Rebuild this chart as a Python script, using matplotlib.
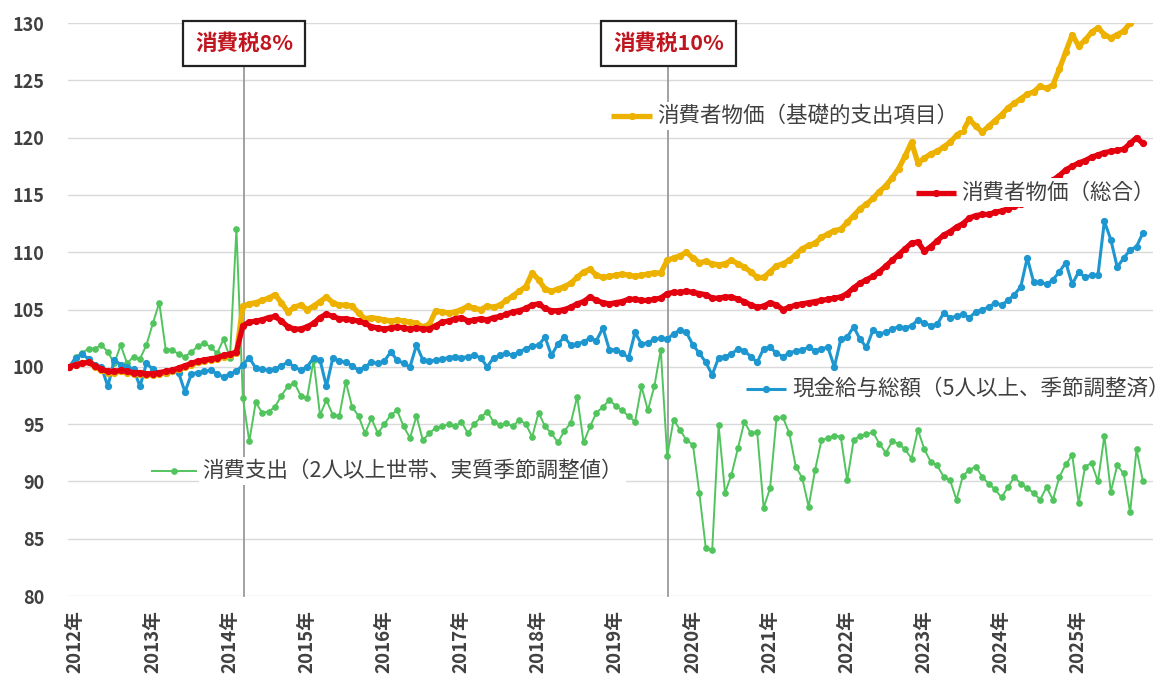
import numpy as np
import matplotlib
matplotlib.use("Agg")
import matplotlib.pyplot as plt
from matplotlib.transforms import ScaledTranslation

plt.rcParams['font.family'] = ['Noto Sans CJK JP', 'DejaVu Sans']

# Monthly, 2012-01 .. 2025-12
years = list(range(2012, 2026))
year_labels = [f"{y}年" for y in years]

cpi_basic = [
    100.0, 100.2, 100.3, 100.4, 100.0, 99.7, 99.5, 99.5, 99.6, 99.5, 99.4, 99.4,
    99.3, 99.3, 99.4, 99.5, 99.6, 99.8, 100.0, 100.2, 100.4, 100.5, 100.6, 100.7,
    100.9, 101.0, 101.2, 105.3, 105.5, 105.6, 105.8, 106.0, 106.3, 105.6, 104.8, 105.2,
    105.4, 105.0, 105.3, 105.7, 106.1, 105.6, 105.4, 105.4, 105.3, 104.7, 104.2, 104.3,
    104.2, 104.1, 104.0, 104.1, 104.0, 103.9, 103.8, 103.5, 103.7, 104.9, 104.8, 104.7,
    104.8, 105.0, 105.3, 105.1, 105.0, 105.3, 105.2, 105.4, 105.8, 106.2, 106.6, 107.0,
    108.2, 107.6, 106.8, 106.6, 106.8, 107.0, 107.3, 107.8, 108.3, 108.5, 108.0, 107.8,
    107.9, 108.0, 108.1, 108.0, 107.9, 108.0, 108.1, 108.2, 108.2, 109.3, 109.5, 109.7,
    110.0, 109.5, 109.1, 109.2, 109.0, 108.9, 109.0, 109.3, 109.0, 108.7, 108.3, 107.8,
    107.8, 108.3, 108.8, 109.0, 109.3, 109.8, 110.3, 110.6, 110.8, 111.3, 111.6, 111.9,
    112.0, 112.6, 113.2, 113.8, 114.2, 114.7, 115.3, 115.8, 116.5, 117.3, 118.4, 119.6,
    117.8, 118.2, 118.6, 118.8, 119.2, 119.6, 120.2, 120.6, 121.6, 121.0, 120.5, 121.0,
    121.5, 122.0, 122.6, 123.0, 123.4, 123.8, 124.0, 124.5, 124.3, 124.6, 126.0, 127.5,
    129.0, 128.0, 128.5, 129.2, 129.6, 129.0, 128.7, 129.0, 129.3, 130.0, np.nan, np.nan,
]

cpi_total = [
    100.0, 100.2, 100.3, 100.4, 100.1, 99.8, 99.6, 99.6, 99.7, 99.6, 99.5, 99.5,
    99.4, 99.4, 99.5, 99.6, 99.7, 99.9, 100.1, 100.3, 100.5, 100.6, 100.7, 100.8,
    101.0, 101.1, 101.3, 103.6, 103.9, 104.0, 104.1, 104.3, 104.4, 104.0, 103.5, 103.3,
    103.3, 103.5, 103.8, 104.3, 104.6, 104.4, 104.2, 104.2, 104.1, 104.0, 103.8, 103.5,
    103.4, 103.3, 103.4, 103.5, 103.4, 103.3, 103.4, 103.3, 103.3, 103.6, 103.9, 104.0,
    104.2, 104.3, 104.0, 104.1, 104.2, 104.1, 104.3, 104.4, 104.6, 104.8, 104.9, 105.1,
    105.4, 105.5, 105.1, 104.9, 104.9, 105.0, 105.2, 105.5, 105.7, 106.1, 105.8, 105.6,
    105.5, 105.6, 105.7, 105.9, 105.9, 105.8, 105.8, 105.9, 106.0, 106.4, 106.5, 106.5,
    106.6, 106.5, 106.4, 106.3, 106.0, 106.0, 106.1, 106.1, 105.9, 105.7, 105.4, 105.2,
    105.3, 105.6, 105.4, 105.0, 105.2, 105.4, 105.5, 105.6, 105.7, 105.8, 105.9, 106.0,
    106.1, 106.4, 106.9, 107.3, 107.6, 107.9, 108.3, 108.8, 109.3, 109.8, 110.3, 110.8,
    110.9, 110.1, 110.5, 111.0, 111.5, 111.8, 112.2, 112.5, 113.0, 113.2, 113.3, 113.3,
    113.5, 113.6, 113.8, 114.0, 114.2, 114.5, 114.9, 115.3, 115.8, 116.3, 116.7, 117.2,
    117.5, 117.8, 118.0, 118.3, 118.5, 118.7, 118.8, 118.9, 119.0, 119.5, 120.0, 119.5,
]

wages = [
    100.0, 100.8, 101.1, 100.7, 100.2, 100.0, 98.3, 100.6, 100.2, 100.0, 99.8, 98.3,
    100.3, 99.8, 99.5, 99.5, 99.6, 99.5, 97.8, 99.4, 99.5, 99.6, 99.7, 99.4,
    99.1, 99.4, 99.6, 100.2, 100.8, 99.9, 99.8, 99.7, 99.8, 100.1, 100.4, 100.0,
    99.7, 100.0, 100.8, 100.6, 98.3, 100.8, 100.5, 100.4, 100.1, 99.7, 100.0, 100.4,
    100.3, 100.5, 101.3, 100.6, 100.3, 100.0, 101.9, 100.6, 100.5, 100.6, 100.7, 100.8,
    100.9, 100.8, 100.9, 101.0, 100.8, 100.0, 100.8, 101.0, 101.2, 101.0, 101.3, 101.6,
    101.8, 101.9, 102.6, 101.0, 102.0, 102.6, 101.9, 102.0, 102.2, 102.5, 102.3, 103.4,
    101.5, 101.5, 101.2, 100.8, 103.0, 102.0, 102.1, 102.4, 102.5, 102.4, 102.9, 103.2,
    103.0, 101.9, 101.2, 100.4, 99.3, 100.8, 100.9, 101.1, 101.6, 101.4, 100.9, 100.4,
    101.6, 101.7, 101.2, 100.9, 101.2, 101.4, 101.5, 101.7, 101.4, 101.6, 101.7, 100.0,
    102.4, 102.6, 103.5, 102.4, 101.7, 103.2, 102.9, 103.0, 103.3, 103.5, 103.4, 103.6,
    104.1, 103.8, 103.6, 103.7, 104.7, 104.3, 104.4, 104.6, 104.3, 104.8, 105.0, 105.2,
    105.6, 105.4, 105.8, 106.3, 107.0, 109.5, 107.4, 107.4, 107.2, 107.6, 108.3, 109.1,
    107.2, 108.3, 107.8, 108.0, 108.0, 112.7, 111.1, 108.7, 109.5, 110.2, 110.5, 111.7,
]

consumption = [
    100.0, 100.9, 101.2, 101.6, 101.6, 101.9, 101.3, 100.3, 101.9, 100.3, 100.9, 100.7,
    101.9, 103.8, 105.6, 101.5, 101.5, 101.1, 100.9, 101.3, 101.8, 102.1, 101.7, 101.2,
    102.4, 100.8, 112.0, 97.3, 93.5, 96.9, 96.0, 96.1, 96.5, 97.5, 98.3, 98.6,
    97.5, 97.3, 100.6, 95.8, 97.1, 95.8, 95.7, 98.7, 96.5, 95.7, 94.2, 95.5,
    94.2, 95.0, 95.8, 96.2, 94.8, 93.8, 95.7, 93.6, 94.2, 94.7, 94.8, 95.0,
    94.8, 95.2, 94.2, 95.0, 95.6, 96.1, 95.2, 94.9, 95.1, 94.8, 95.4, 95.0,
    93.9, 96.0, 94.8, 94.2, 93.4, 94.4, 95.1, 97.4, 93.4, 94.8, 96.0, 96.5,
    97.1, 96.6, 96.2, 95.7, 95.2, 98.3, 96.2, 98.3, 101.5, 92.2, 95.4, 94.5,
    93.6, 93.2, 89.0, 84.2, 84.0, 94.9, 89.0, 90.6, 92.9, 95.2, 94.2, 94.3,
    87.7, 89.4, 95.5, 95.6, 94.2, 91.3, 90.3, 87.8, 91.0, 93.6, 93.8, 94.0,
    93.9, 90.1, 93.6, 94.0, 94.1, 94.3, 93.3, 92.5, 93.5, 93.3, 92.8, 92.0,
    94.5, 92.8, 91.7, 91.4, 90.4, 90.1, 88.4, 90.5, 91.0, 91.3, 90.4, 89.8,
    89.3, 88.6, 89.5, 90.4, 89.8, 89.4, 89.0, 88.4, 89.5, 88.4, 90.4, 91.5,
    92.3, 88.1, 91.3, 91.6, 90.0, 94.0, 89.1, 91.4, 90.7, 87.3, 92.8, 90.0,
]

series_names = [
    "消費者物価（基礎的支出項目）",
    "消費者物価（総合）",
    "現金給与総額（5人以上、季節調整済）",
    "消費支出（2人以上世帯、実質季節調整値）",
]
tax_labels = ["消費税8%", "消費税10%"]
tax_months = [27, 93]   # 2014-04, 2019-10 (month index from 2012-01)

C_Y = "#EDB100"
C_R = "#E3000F"
C_B = "#1E96CF"
C_G = "#52C45E"
TXT = "#404040"

x = np.arange(len(cpi_total))

fig = plt.figure(figsize=(11.72, 6.8), dpi=100)
ax = fig.add_axes([0.058, 0.1235, 0.926, 0.8425])

ax.plot(x, consumption, color=C_G, lw=1.4, marker='o', ms=3.8, zorder=3)
ax.plot(x, wages, color=C_B, lw=2.2, marker='o', ms=4.2, zorder=4)
ax.plot(x, cpi_basic, color=C_Y, lw=3.8, marker='o', ms=4.2, zorder=5)
ax.plot(x, cpi_total, color=C_R, lw=3.8, marker='o', ms=4.2, zorder=6)

ax.set_xlim(-0.2, 168.6)
ax.set_ylim(80, 130)
ax.set_yticks(range(80, 131, 5))
ax.set_xticks(range(0, len(x), 12))
ax.set_xticklabels(year_labels, rotation=90, va='top', ha='center')
for sp in ax.spines.values():
    sp.set_visible(False)
ax.grid(axis='y', color='#D9D9D9', lw=1.0)
ax.set_axisbelow(True)
ax.tick_params(axis='both', length=0, colors=TXT, labelsize=13)
ax.tick_params(axis='x', labelsize=13.5)
ax.tick_params(axis='y', pad=17)
ax.tick_params(axis='x', pad=10)
for lab in ax.get_yticklabels():
    lab.set_fontweight('bold')
for lab in ax.get_xticklabels():
    lab.set_fontweight('bold')
    lab.set_transform(lab.get_transform() + ScaledTranslation(6/100, 0, fig.dpi_scale_trans))

# consumption tax markers
for m, t in zip(tax_months, tax_labels):
    ax.plot([m + 0.2, m + 0.2], [80, 128], color='#9A9A9A', lw=1.3, zorder=2, clip_on=False)
    ax.text(m + 0.2, 128.2, t, ha='center', va='center', fontsize=15.5, fontweight='bold',
            color='#C0141E', zorder=10,
            bbox=dict(boxstyle='square,pad=0.55', facecolor='white', edgecolor='#222222', lw=1.6))

# inline legend labels
def inline_label(x0, x1, y, color, lw, ms, text):
    ax.text(x1 + 0.9, y, text, ha='left', va='center', fontsize=15.5, color=TXT, zorder=8,
            bbox=dict(boxstyle='square,pad=0.15', facecolor='white', edgecolor='none'))
    ax.plot([x0, x1], [y, y], color=color, lw=lw, zorder=9, solid_capstyle='butt')
    ax.plot([(x0 + x1) / 2], [y], marker='o', color=color, ms=ms, zorder=9)

inline_label(84.3, 90.6, 121.9, C_Y, 3.8, 4.2, series_names[0])
inline_label(131.7, 137.9, 115.2, C_R, 3.8, 4.2, series_names[1])
inline_label(105.3, 111.5, 98.1, C_B, 2.2, 4.2, series_names[2])
inline_label(12.7, 19.8, 90.9, C_G, 1.4, 3.8, series_names[3])

fig.savefig("out.png", dpi=100)
